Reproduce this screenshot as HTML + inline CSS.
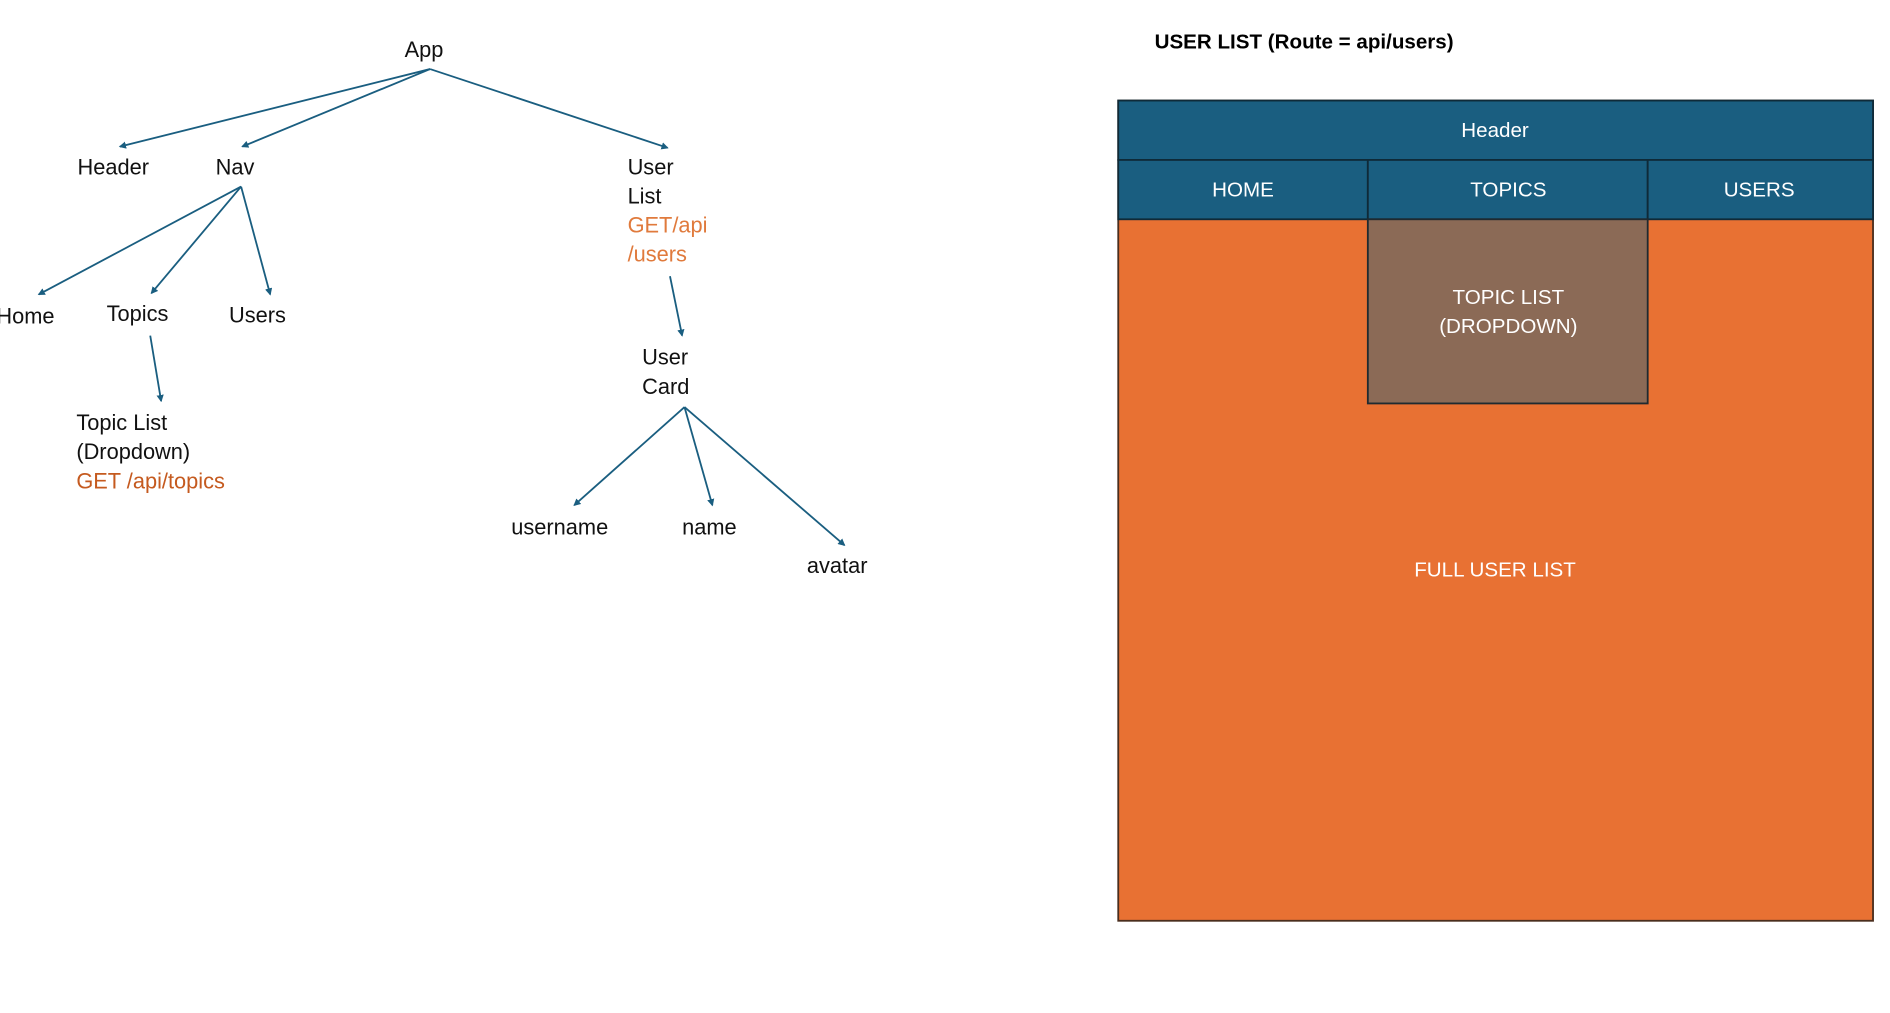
<!DOCTYPE html>
<html><head><style>html,body{margin:0;padding:0;background:#fff;overflow:hidden}</style></head>
<body>
<svg width="1890" height="1008" viewBox="0 0 1560 832" xmlns="http://www.w3.org/2000/svg" font-family="Liberation Sans, sans-serif">
<defs><marker id="a" markerWidth="6" markerHeight="6" refX="5" refY="3" orient="auto" markerUnits="userSpaceOnUse"><path d="M0,0 L6,3 L0,6 z" fill="#1a5e80"/></marker></defs>
<g stroke="#1a5e80" stroke-width="1.5" fill="none" marker-end="url(#a)">
<line x1="355" y1="57" x2="99" y2="121"/>
<line x1="355" y1="57" x2="200" y2="121"/>
<line x1="355" y1="57" x2="551" y2="122"/>
<line x1="199" y1="154" x2="32" y2="243"/>
<line x1="199" y1="154" x2="125" y2="242"/>
<line x1="199" y1="154" x2="223" y2="243"/>
<line x1="124" y1="277" x2="133" y2="331"/>
<line x1="553" y1="228" x2="563" y2="277"/>
<line x1="565" y1="336" x2="474" y2="417"/>
<line x1="565" y1="336" x2="588" y2="417"/>
<line x1="565" y1="336" x2="697" y2="450"/>
</g>
<g font-size="18" fill="#111">
<text x="350" y="47" text-anchor="middle">App</text>
<text x="64" y="144">Header</text>
<text x="178" y="144">Nav</text>
<text x="518" y="144">User</text>
<text x="518" y="168">List</text>
<text x="518" y="192" fill="#e07a3c">GET/api</text>
<text x="518" y="216" fill="#e07a3c">/users</text>
<text x="-3" y="267">Home</text>
<text x="88" y="265">Topics</text>
<text x="189" y="266">Users</text>
<text x="63" y="355">Topic List</text>
<text x="63" y="379">(Dropdown)</text>
<text x="63" y="403" fill="#c55a1f">GET /api/topics</text>
<text x="530" y="301">User</text>
<text x="530" y="325">Card</text>
<text x="422" y="441">username</text>
<text x="563" y="441">name</text>
<text x="666" y="473">avatar</text>
</g>
<text x="953" y="40" font-size="17" font-weight="bold" fill="#000">USER LIST (Route = api/users)</text>
<rect x="923" y="83" width="623" height="677" fill="#e87133" stroke="#4a2e1e" stroke-width="1.5"/>
<rect x="923" y="83" width="623" height="49" fill="#1a5e80" stroke="#0f2a38" stroke-width="1.5"/>
<rect x="923" y="132" width="206" height="49" fill="#1a5e80" stroke="#0f2a38" stroke-width="1.5"/>
<rect x="1129" y="132" width="231" height="49" fill="#1a5e80" stroke="#0f2a38" stroke-width="1.5"/>
<rect x="1360" y="132" width="186" height="49" fill="#1a5e80" stroke="#0f2a38" stroke-width="1.5"/>
<rect x="1129" y="181" width="231" height="152" fill="#8b6a56" stroke="#1f2a30" stroke-width="1.5"/>
<g font-size="17" fill="#fff" text-anchor="middle">
<text x="1234" y="113">Header</text>
<text x="1026" y="162">HOME</text>
<text x="1245" y="162">TOPICS</text>
<text x="1452" y="162">USERS</text>
<text x="1245" y="251">TOPIC LIST</text>
<text x="1245" y="275">(DROPDOWN)</text>
<text x="1234" y="476">FULL USER LIST</text>
</g>
</svg>
</body></html>
